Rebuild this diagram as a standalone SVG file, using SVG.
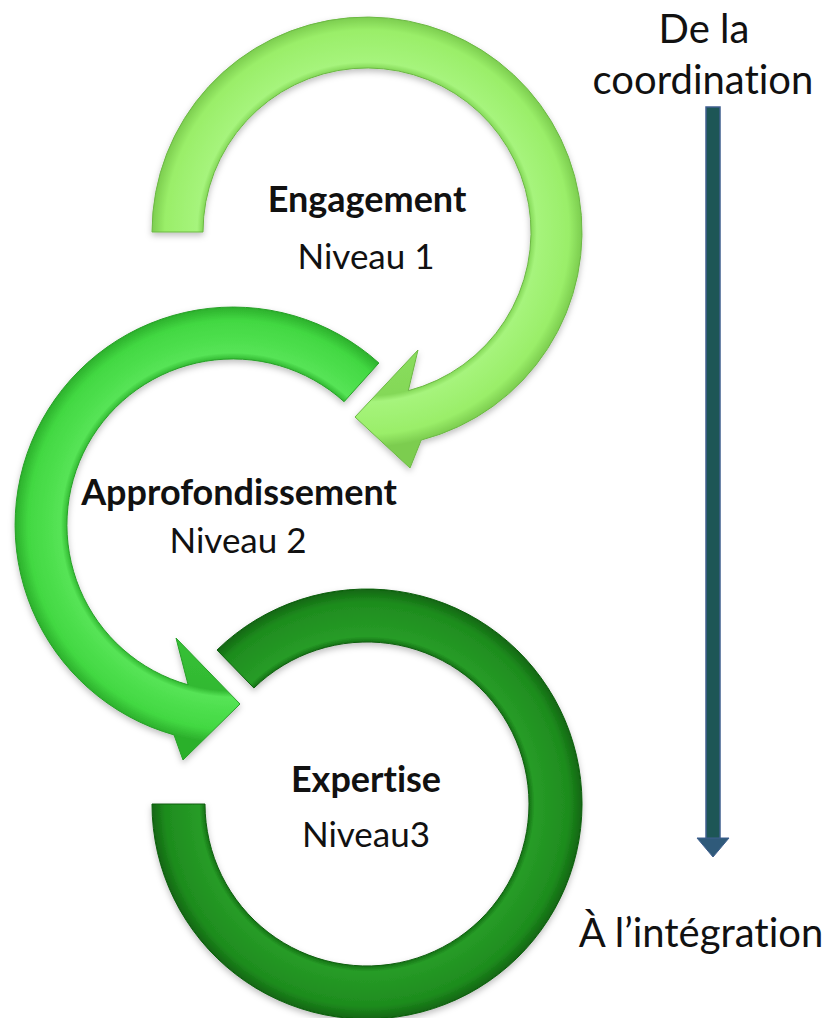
<svg xmlns="http://www.w3.org/2000/svg" width="830" height="1018" viewBox="0 0 830 1018">
  <style>
    .lbl { font-family: Lato, "Open Sans", "Liberation Sans", sans-serif; fill: #111111; text-anchor: middle; font-variant-ligatures: none; }
    .title { font-weight: bold; font-size: 36px; }
    .lvl { font-size: 35px; }
    .side { font-family: Lato, "Open Sans", "Liberation Sans", sans-serif; font-size: 40px; fill: #111111; text-anchor: middle; font-variant-ligatures: none; }
    .ring { stroke-width: 1; stroke-linejoin: round; filter: url(#shadow); }
  </style>
  <defs>
    <filter id="shadow" x="-10%" y="-10%" width="120%" height="120%">
      <feDropShadow dx="0" dy="3" stdDeviation="3" flood-color="#000000" flood-opacity="0.25"/>
    </filter>
    <radialGradient id="g1" gradientUnits="userSpaceOnUse" cx="367" cy="232" r="215">
      <stop offset="0" stop-color="#9CF06C"/>
      <stop offset="0.762" stop-color="#84D858"/>
      <stop offset="0.79" stop-color="#A6F47C"/>
      <stop offset="0.94" stop-color="#9AEE69"/>
      <stop offset="1" stop-color="#7CCD4F"/>
    </radialGradient>
    <radialGradient id="g2" gradientUnits="userSpaceOnUse" cx="233" cy="525" r="218">
      <stop offset="0" stop-color="#42D842"/>
      <stop offset="0.761" stop-color="#32B932"/>
      <stop offset="0.79" stop-color="#56E456"/>
      <stop offset="0.94" stop-color="#42D842"/>
      <stop offset="1" stop-color="#2CB02C"/>
    </radialGradient>
    <radialGradient id="g3" gradientUnits="userSpaceOnUse" cx="367" cy="804" r="215">
      <stop offset="0" stop-color="#1E8C1E"/>
      <stop offset="0.753" stop-color="#147214"/>
      <stop offset="0.78" stop-color="#279C27"/>
      <stop offset="0.94" stop-color="#1E8C1E"/>
      <stop offset="1" stop-color="#116611"/>
    </radialGradient>
  </defs>

  <g id="node-engagement">
    <path class="ring" fill="url(#g1)" stroke="#6CB844" d="M 203,232 L 152,232 A 215 215 0 1 1 421.2,440.1 L 410,468 L 355,417 L 418,350 L 408.3,390.7 A 164 164 0 1 0 203,232 Z"/>
    <text class="lbl title" x="367" y="212">Engagement</text>
    <text class="lbl lvl" x="366" y="269">Niveau 1</text>
  </g>

  <g id="node-approfondissement">
    <path class="ring" fill="url(#g2)" stroke="#27A027" d="M 378.9,363 A 218 218 0 1 0 174,734.9 L 183,760 L 240,704 L 176,638 L 188.1,684.8 A 166 166 0 1 1 344.1,401.7 Z"/>
    <text class="lbl title" x="239" y="505">Approfondissement</text>
    <text class="lbl lvl" x="238" y="553">Niveau 2</text>
  </g>

  <g id="node-expertise">
    <path class="ring" fill="url(#g3)" stroke="#0E5E0E" d="M 217,650 A 215 215 0 1 1 152,804 L 205,804 A 162 162 0 1 0 253.9,688 Z"/>
    <text class="lbl title" x="366" y="792">Expertise</text>
    <text class="lbl lvl" x="366" y="847">Niveau3</text>
  </g>

  <g id="connectors">
    <rect x="706" y="107" width="14" height="733" fill="#1D5656" stroke="#3F5F8F" stroke-width="1.5"/>
    <polygon points="697,838 729,838 713,857" fill="#2F5A7A" stroke="#3F5F8F" stroke-width="1"/>
  </g>

  <g id="node-start">
    <text class="side" x="704" y="43">De la</text>
    <text class="side" x="703" y="94">coordination</text>
  </g>
  <g id="node-end">
    <text class="side" x="701" y="947">À l’intégration</text>
  </g>
</svg>
